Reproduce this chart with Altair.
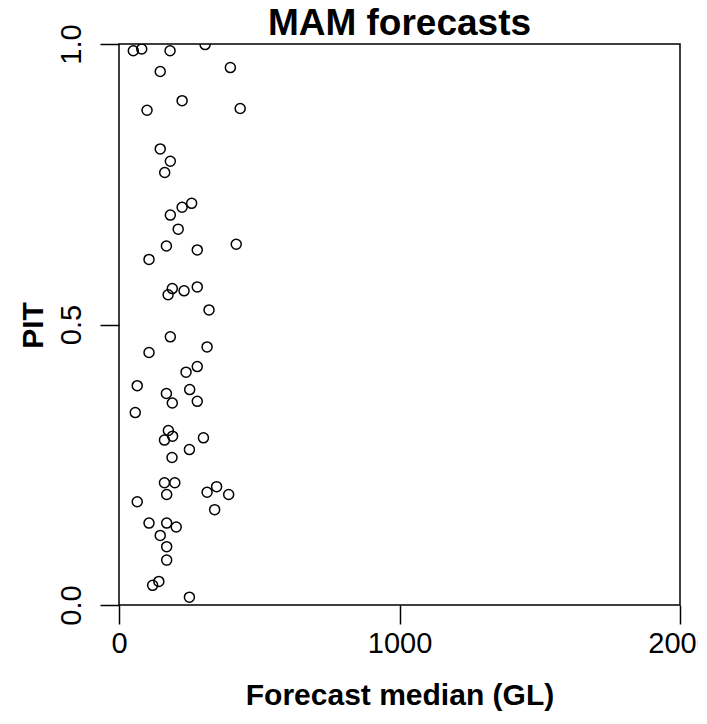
import altair as alt
import pandas as pd

# Forecast median (GL) and PIT values
forecast_median = [51, 81, 182, 307, 147, 397, 225, 100, 432, 147,
                   183, 163, 259, 225, 183, 211, 169, 279, 418, 107,
                   190, 175, 232, 279, 321, 183, 107, 314, 279, 239,
                   65, 169, 252, 190, 279, 58, 176, 162, 191, 301,
                   251, 189, 162, 199, 170, 314, 348, 391, 65, 341,
                   107, 170, 204, 147, 170, 170, 142, 120, 251]
pit = [0.988, 0.991, 0.988, 0.999, 0.951, 0.958, 0.899, 0.882, 0.885, 0.813,
       0.791, 0.771, 0.716, 0.709, 0.695, 0.670, 0.640, 0.633, 0.643, 0.616,
       0.564, 0.553, 0.560, 0.567, 0.526, 0.478, 0.450, 0.460, 0.425, 0.415,
       0.391, 0.377, 0.384, 0.360, 0.363, 0.343, 0.311, 0.294, 0.301, 0.298,
       0.277, 0.263, 0.218, 0.218, 0.197, 0.201, 0.211, 0.197, 0.184, 0.170,
       0.146, 0.146, 0.139, 0.124, 0.104, 0.080, 0.042, 0.035, 0.014]

x_ticks = [0, 1000, 2000]
y_ticks = [0.0, 0.5, 1.0]
chart_title = ["MAM forecasts"]

df = pd.DataFrame({"median": forecast_median, "pit": pit})
title_df = pd.DataFrame({"t": chart_title})

FONT = "Liberation Sans"

points = (
    alt.Chart(df)
    .mark_point(shape="circle", filled=False, color="black", size=100,
                strokeWidth=1.5, opacity=1, clip=True)
    .encode(
        x=alt.X("median:Q",
                scale=alt.Scale(domain=[0, 2000], nice=False, zero=False),
                axis=alt.Axis(values=x_ticks, title="Forecast median (GL)",
                              format="d", grid=False, domain=False,
                              tickSize=19, tickWidth=1.5, tickColor="black",
                              labelFontSize=29, labelFont=FONT, labelColor="black",
                              labelPadding=5, labelFlush=False, labelOverlap=False,
                              labelBaseline="top",
                              titleFontSize=30, titleFont=FONT, titleFontWeight="bold",
                              titleColor="black", titleY=99, titleBaseline="alphabetic",
                              titleAnchor="middle")),
        y=alt.Y("pit:Q",
                scale=alt.Scale(domain=[0, 1], nice=False, zero=False),
                axis=alt.Axis(values=y_ticks, title="PIT", format=".1f",
                              grid=False, domain=False,
                              tickSize=19, tickWidth=1.5, tickColor="black",
                              labelFontSize=29, labelFont=FONT, labelColor="black",
                              labelAngle=270, labelAlign="center",
                              labelBaseline="alphabetic", labelPadding=20,
                              labelFlush=False, labelOverlap=False,
                              titleFontSize=30, titleFont=FONT, titleFontWeight="bold",
                              titleColor="black", titleAngle=270, titleAlign="center",
                              titleBaseline="alphabetic", titleX=-77, titleY=281)),
    )
)

title_text = (
    alt.Chart(title_df)
    .mark_text(font=FONT, fontSize=37, fontWeight="bold", color="black",
               align="center", baseline="alphabetic", clip=False)
    .encode(text="t:N", x=alt.value(280.5), y=alt.value(-9))
)

chart = (
    alt.layer(points, title_text)
    .properties(
        width=561,
        height=561,
        background="white",
        autosize=alt.AutoSizeParams(type="none"),
        padding={"left": 111, "top": 36, "right": 18, "bottom": 111},
    )
    .configure_view(stroke="black", strokeWidth=1.5)
)

chart.save("out.html", embed_options={"renderer": "svg", "actions": False})
